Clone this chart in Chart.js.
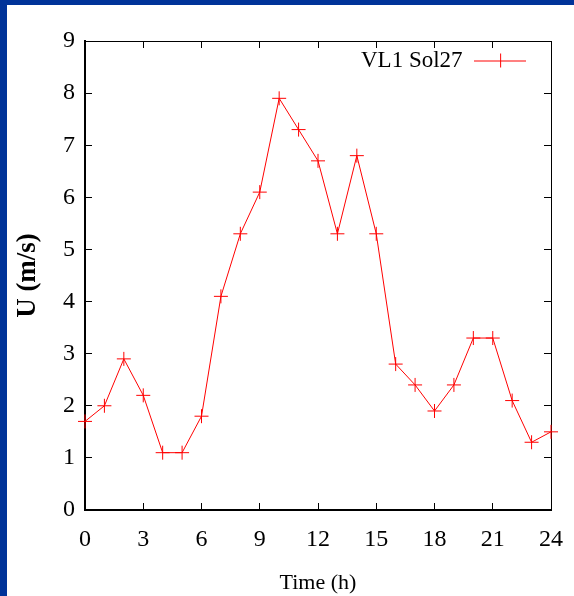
<!DOCTYPE html>
<html>
<head>
<meta charset="utf-8">
<script src="https://cdn.jsdelivr.net/npm/chart.js@4/dist/chart.umd.min.js"></script>
<style>
  html, body { margin: 0; padding: 0; background: #003399; width: 574px; height: 596px; overflow: hidden; }
  #wrap { position: absolute; left: 7px; top: 5px; width: 567px; height: 591px; background: #ffffff; }
  canvas { display: block; }
</style>
</head>
<body>
<div id="wrap"><canvas id="c" width="567" height="591"></canvas></div>
<script>
const hours = [0,1,2,3,4,5,6,7,8,9,10,11,12,13,14,15,16,17,18,19,20,21,22,23,24];
const speed = [1.7,2.0,2.9,2.2,1.1,1.1,1.8,4.1,5.3,6.1,7.9,7.3,6.7,5.3,6.8,5.3,2.8,2.4,1.9,2.4,3.3,3.3,2.1,1.3,1.5];
const seriesLabel = 'VL1 Sol27';
const xTitle = 'Time (h)';
const yTitle = 'U (m/s)';

const SERIF = "'Liberation Serif', 'Times New Roman', serif";
const RED = '#ff0000';

// legend sample: line with a cross marker
const sample = document.createElement('canvas');
sample.width = 52; sample.height = 16;
(function(){
  const g = sample.getContext('2d');
  g.strokeStyle = RED; g.lineWidth = 1;
  g.beginPath();
  g.moveTo(0, 8.5); g.lineTo(52, 8.5);
  g.moveTo(26.5, 1); g.lineTo(26.5, 15);
  g.moveTo(19, 8.5); g.lineTo(33, 8.5);
  g.stroke();
})();

// move the in-plot legend box to the top-right corner of the plot area
const legendCorner = {
  id: 'legendCorner',
  afterLayout(chart) {
    const lg = chart.legend;
    if (!lg) return;
    const w = lg.width;
    lg.left = chart.chartArea.right - 200;
    lg.right = lg.left + w;
    lg.top = chart.chartArea.top;
    lg.bottom = lg.top + lg.height;
  }
};

const tickGrid = { drawOnChartArea: false, drawTicks: true, tickLength: -7, color: '#000', lineWidth: 1 };

new Chart(document.getElementById('c'), {
  type: 'line',
  data: {
    datasets: [{
      label: seriesLabel,
      data: hours.map((h, i) => ({ x: h, y: speed[i] })),
      borderColor: RED,
      backgroundColor: RED,
      borderWidth: 1,
      tension: 0,
      fill: false,
      pointStyle: 'cross',
      pointRadius: 7,
      pointBorderWidth: 1,
      pointBorderColor: RED,
      clip: false
    }]
  },
  plugins: [legendCorner],
  options: {
    responsive: false,
    devicePixelRatio: 1,
    animation: false,
    layout: { padding: { left: 0, right: 23, top: 36, bottom: 0 } },
    plugins: {
      tooltip: { enabled: false },
      legend: {
        position: 'chartArea',
        align: 'start',
        rtl: true,
        labels: {
          usePointStyle: true,
          pointStyle: sample,
          pointStyleWidth: 52,
          padding: 8,
          color: '#000',
          font: { family: SERIF, size: 23 }
        }
      }
    },
    scales: {
      x: {
        type: 'linear', position: 'bottom', min: 0, max: 24,
        ticks: { stepSize: 3, color: '#000', padding: 22, font: { family: SERIF, size: 24 }, maxRotation: 0 },
        grid: tickGrid,
        border: { display: true, color: '#000', width: 2 },
        title: { display: true, text: xTitle, color: '#000', font: { family: SERIF, size: 22 }, padding: { top: 0, bottom: 0 } },
        afterFit: s => { s.height = 86; s.paddingLeft = 0; s.paddingRight = 0; }
      },
      x2: {
        type: 'linear', position: 'top', min: 0, max: 24,
        ticks: { stepSize: 3, display: false },
        grid: tickGrid,
        border: { display: true, color: '#000', width: 1 },
        afterFit: s => { s.height = 0; s.paddingLeft = 0; s.paddingRight = 0; }
      },
      y: {
        type: 'linear', position: 'left', min: 0, max: 9,
        ticks: { stepSize: 1, color: '#000', padding: 17, font: { family: SERIF, size: 24 } },
        grid: tickGrid,
        border: { display: true, color: '#000', width: 2 },
        title: { display: true, text: yTitle, color: '#000', font: { family: SERIF, size: 27, weight: 'bold' }, padding: { top: 5, bottom: 0 } },
        afterFit: s => { s.width = 78; s.paddingTop = 0; s.paddingBottom = 0; }
      },
      y2: {
        type: 'linear', position: 'right', min: 0, max: 9,
        ticks: { stepSize: 1, display: false },
        grid: tickGrid,
        border: { display: true, color: '#000', width: 1 },
        afterFit: s => { s.width = 0; s.paddingTop = 0; s.paddingBottom = 0; }
      }
    }
  }
});
</script>
</body>
</html>
